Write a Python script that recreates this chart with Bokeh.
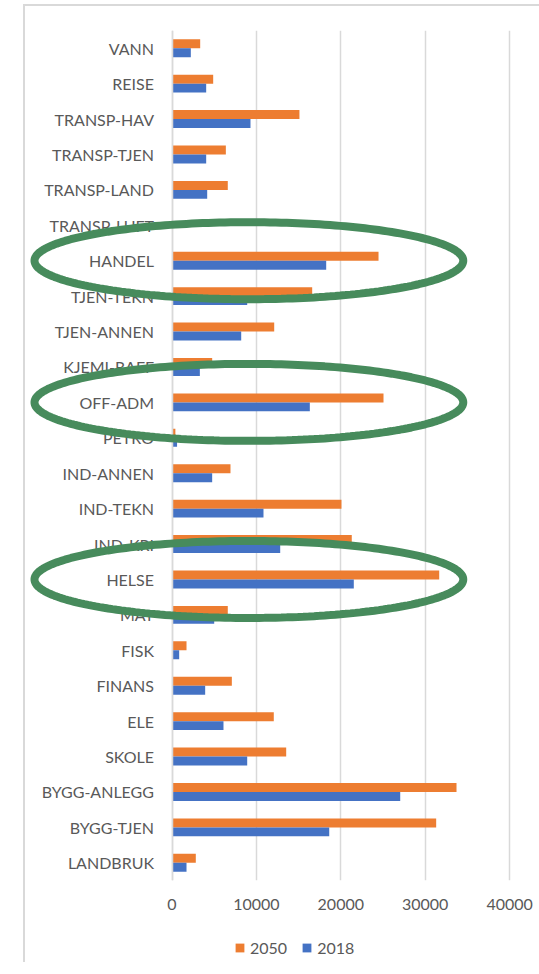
import numpy as np
from bokeh.plotting import figure
from bokeh.layouts import column
from bokeh.models import (Range1d, FixedTicker, Legend, LegendItem, PolyAnnotation,
                          ColumnDataSource)
from bokeh.transform import dodge
from bokeh.embed import file_html
from bokeh.resources import INLINE

# ---- data (top to bottom as shown) ----
categories = ["VANN", "REISE", "TRANSP-HAV", "TRANSP-TJEN", "TRANSP-LAND", "TRANSP-LUFT",
              "HANDEL", "TJEN-TEKN", "TJEN-ANNEN", "KJEMI-RAFF", "OFF-ADM", "PETRO",
              "IND-ANNEN", "IND-TEKN", "IND-KRI", "HELSE", "MAT", "FISK", "FINANS",
              "ELE", "SKOLE", "BYGG-ANLEGG", "BYGG-TJEN", "LANDBRUK"]
values_2050 = [3340, 4880, 15100, 6380, 6610, 0,
               24470, 16610, 12110, 4760, 25060, 400,
               6930, 20080, 21300, 31660, 6610, 1720, 7090,
               12060, 13530, 33710, 31300, 2820]
values_2018 = [2230, 4050, 9300, 4050, 4170, 0,
               18270, 8910, 8200, 3300, 16330, 600,
               4760, 10840, 12820, 21540, 5000, 850, 3930,
               6100, 8910, 27040, 18630, 1720]
series_names = ["2050", "2018"]
x_ticks = [0, 10000, 20000, 30000, 40000]
highlighted = ["HANDEL", "OFF-ADM", "HELSE"]

ORANGE = "#ED7D31"
BLUE = "#4472C4"
GREEN = "#478B5C"
GREY_TXT = "#595959"
GRID = "#D9D9D9"
FONT = "Lato"

n = len(categories)
ypos = [n - 1 - i for i in range(n)]
src = ColumnDataSource(dict(y=ypos, v50=values_2050, v18=values_2018, cat=categories))

# frame spans the full width; the category axis sits at x = 0 inside it
FW, FH = 539, 850
x0_px, px_per_unit = 171.5, 84.4 / 10000
x_lo = -x0_px / px_per_unit
x_hi = (FW - x0_px) / px_per_unit

p = figure(frame_width=FW, frame_height=FH, output_backend="svg", toolbar_location=None,
           x_range=Range1d(x_lo, x_hi), y_range=Range1d(-0.5, n - 0.5),
           min_border_left=0, min_border_right=0, min_border_top=30, min_border_bottom=0)
p.outline_line_color = None
p.border_fill_alpha = 0
p.background_fill_alpha = 0

bh = 0.254
r50 = p.hbar(y=dodge("y", bh / 2), right="v50", left=0, height=bh, source=src,
             fill_color=ORANGE, line_color=None)
r18 = p.hbar(y=dodge("y", -bh / 2), right="v18", left=0, height=bh, source=src,
             fill_color=BLUE, line_color=None)

# axes
p.xaxis.ticker = FixedTicker(ticks=x_ticks)
p.xaxis.major_label_overrides = {t: str(t) for t in x_ticks}
p.xaxis.axis_line_color = None
p.xaxis.major_tick_line_color = None
p.xaxis.minor_tick_line_color = None
p.xaxis.major_tick_out = 0
p.xaxis.major_tick_in = 0
p.xaxis.major_label_text_color = GREY_TXT
p.xaxis.major_label_text_font = FONT
p.xaxis.major_label_text_font_size = "16px"
p.xaxis.major_label_standoff = 18

p.yaxis.fixed_location = 0
p.yaxis.ticker = FixedTicker(ticks=ypos)
p.yaxis.major_label_overrides = {y: c for y, c in zip(ypos, categories)}
p.yaxis.axis_line_color = GRID
p.yaxis.axis_line_width = 1.5
p.yaxis.major_tick_line_color = None
p.yaxis.minor_tick_line_color = None
p.yaxis.major_tick_out = 0
p.yaxis.major_tick_in = 0
p.yaxis.major_label_text_color = GREY_TXT
p.yaxis.major_label_text_font = FONT
p.yaxis.major_label_text_font_size = "16px"
p.yaxis.major_label_standoff = 18

p.xgrid.ticker = FixedTicker(ticks=x_ticks)
p.xgrid.grid_line_color = GRID
p.xgrid.grid_line_width = 1.5
p.ygrid.grid_line_color = None

# highlight ellipses
t = np.linspace(0, 2 * np.pi, 240)
cx, rx, ry = 9110, 25400, 1.087
for name in highlighted:
    cy = ypos[categories.index(name)]
    p.add_layout(PolyAnnotation(xs=list(cx + rx * np.cos(t)), ys=list(cy + ry * np.sin(t)),
                                fill_alpha=0, line_color=GREEN, line_alpha=1, line_width=8))

# ---- legend strip (separate small figure; its renderers use the same data,
#      outside its visible ranges, so only the legend shows) ----
lg = figure(width=FW, height=50, output_backend="svg", toolbar_location=None,
            x_axis_type=None, y_axis_type=None, min_border=0,
            x_range=Range1d(-2, -1), y_range=Range1d(-3, -2))
lg.outline_line_color = None
lg.border_fill_alpha = 0
lg.background_fill_alpha = 0
lg.grid.visible = False
l50 = lg.hbar(y="y", right="v50", left=0, height=bh, source=src, fill_color=ORANGE,
              line_color=None)
l18 = lg.hbar(y="y", right="v18", left=0, height=bh, source=src, fill_color=BLUE,
              line_color=None)
legend = Legend(items=[LegendItem(label=series_names[0], renderers=[l50]),
                       LegendItem(label=series_names[1], renderers=[l18])],
                orientation="horizontal", location=(234, 5),
                label_text_font=FONT, label_text_font_size="16px",
                label_text_color=GREY_TXT, glyph_width=11, glyph_height=11,
                border_line_color=None, background_fill_alpha=0, spacing=14,
                label_standoff=5, margin=0, padding=4)
lg.add_layout(legend, "center")

layout = column(p, lg, spacing=0, styles={
    "background": ("linear-gradient(#D9D9D9,#D9D9D9) 23px 4px / 2px 100% no-repeat, "
                   "linear-gradient(#D9D9D9,#D9D9D9) 23px 4px / 100% 2px no-repeat")
})

open("out.html", "w").write(file_html(layout, INLINE))
